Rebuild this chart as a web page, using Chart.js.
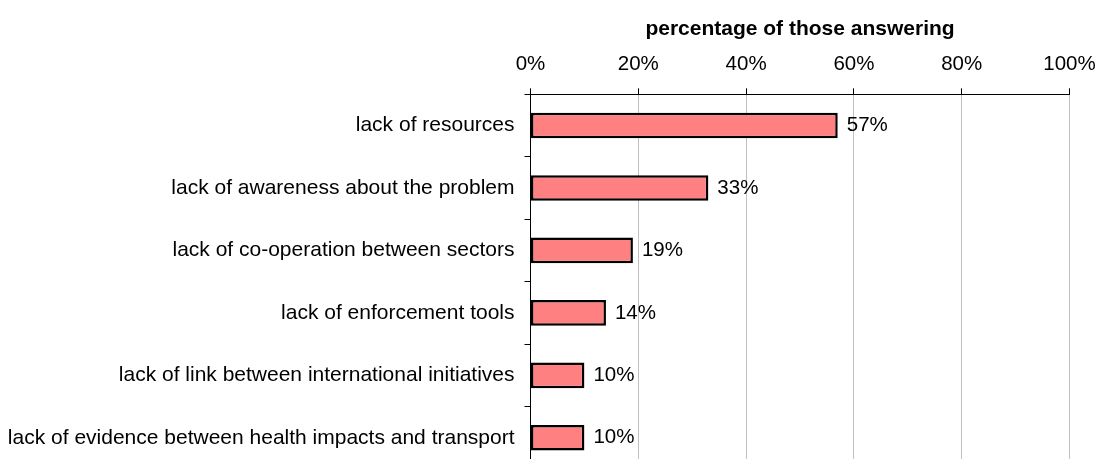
<!DOCTYPE html>
<html>
<head>
<meta charset="utf-8">
<script src="https://cdn.jsdelivr.net/npm/chart.js@4/dist/chart.umd.min.js"></script>
<style>
  html, body { margin: 0; padding: 0; background: #ffffff; overflow: hidden; }
  #wrap { width: 1098px; height: 470px; }
</style>
</head>
<body>
<div id="wrap"><canvas id="chart" width="1098" height="470"></canvas></div>
<script>
// Obstacles named, with the share of respondents citing each one (%)
const categories = [
  'lack of resources',
  'lack of awareness about the problem',
  'lack of co-operation between sectors',
  'lack of enforcement tools',
  'lack of link between international initiatives',
  'lack of evidence between health impacts and transport'
];
const shares = [57, 33, 19, 14, 10, 10];
const axisTicks = [0, 20, 40, 60, 80, 100];
const axisTitle = 'percentage of those answering';

const FONT = 'Liberation Sans, Arial, Helvetica, sans-serif';

// Writes each bar's value just past its end
const valueLabels = {
  id: 'valueLabels',
  afterDatasetsDraw(chart) {
    const ctx = chart.ctx;
    const meta = chart.getDatasetMeta(0);
    ctx.save();
    ctx.font = '20.5px ' + FONT;
    ctx.fillStyle = '#000000';
    ctx.textAlign = 'left';
    ctx.textBaseline = 'middle';
    meta.data.forEach((bar, i) => {
      ctx.fillText(shares[i] + '%', bar.x + 9, bar.y);
    });
    ctx.restore();
  }
};

// Keep the plot area fixed: no extra room reserved for overhanging labels
function noLabelPadding(scale) {
  scale.paddingLeft = 0;
  scale.paddingRight = 0;
  scale.paddingTop = 0;
  scale.paddingBottom = 0;
}

new Chart(document.getElementById('chart'), {
  type: 'bar',
  data: {
    labels: categories,
    datasets: [{
      data: shares,
      backgroundColor: '#FF8080',
      borderColor: '#000000',
      borderWidth: 2.5,
      borderSkipped: false,
      barPercentage: 0.41,
      categoryPercentage: 1.0
    }]
  },
  options: {
    indexAxis: 'y',
    responsive: false,
    animation: false,
    layout: { padding: { left: 0, right: 28.5, top: 0, bottom: 1 } },
    plugins: {
      legend: { display: false },
      tooltip: { enabled: false }
    },
    scales: {
      x: {
        position: 'top',
        min: 0,
        max: 100,
        afterBuildTicks(scale) {
          scale.ticks = axisTicks.map(v => ({ value: v }));
        },
        afterFit(scale) { scale.height = 94.3; noLabelPadding(scale); },
        ticks: {
          callback: v => v + '%',
          color: '#000000',
          font: { family: FONT, size: 20.5 },
          padding: 12,
          maxRotation: 0
        },
        grid: {
          color: '#c0c0c0',
          tickColor: '#000000',
          tickLength: 6,
          lineWidth: 1
        },
        border: { color: '#000000', width: 1 },
        title: {
          display: true,
          text: axisTitle,
          color: '#000000',
          font: { family: FONT, size: 21, weight: 'bold' },
          padding: { top: 17, bottom: 0 }
        }
      },
      y: {
        afterFit(scale) { scale.width = 530.5; noLabelPadding(scale); },
        ticks: {
          color: '#000000',
          font: { family: FONT, size: 21 },
          padding: 10
        },
        grid: {
          drawOnChartArea: false,
          color: '#000000',
          tickLength: 6,
          offset: true
        },
        border: { color: '#000000', width: 1 }
      }
    }
  },
  plugins: [valueLabels]
});
</script>
</body>
</html>
